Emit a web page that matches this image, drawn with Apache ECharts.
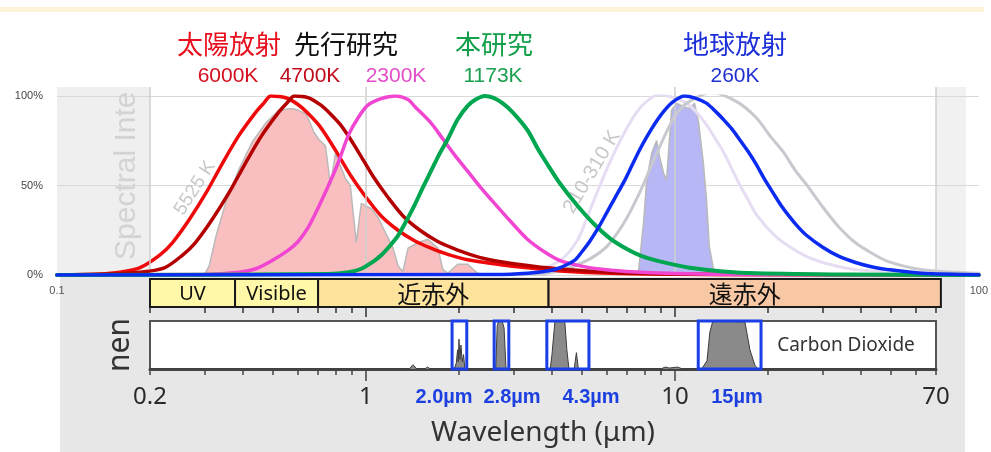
<!DOCTYPE html>
<html>
<head>
<meta charset="utf-8">
<script src="https://cdn.jsdelivr.net/npm/echarts@6/dist/echarts.min.js"></script>
<style>
html,body{margin:0;padding:0;background:#fff}
#chart{width:991px;height:452px}
</style>
</head>
<body>
<div id="chart"></div>
<script>
// Normalized blackbody curves: [wavelength (µm), intensity (% of peak)]
const sun6000K = [[0.1,0],[0.1378,0.5],[0.16,1.5],[0.1856,4],[0.2154,11],[0.2374,18],[0.2695,31],[0.3058,46],[0.3444,62],[0.391,78],[0.4439,91],[0.4711,96],[0.4964,100],[0.555,99],[0.6113,95],[0.659,90],[0.7099,84],[0.7646,76],[0.8238,67],[0.9075,55],[1.0074,44],[1.135,33],[1.288,25],[1.462,19],[1.648,15],[1.87,11.5],[2.17,8.5],[2.714,6],[3.395,4],[4.341,2.3],[6.3,1],[12.05,0.3],[100,0]];
const prior4700K = [[0.1,0],[0.1484,0.5],[0.1856,1.5],[0.2236,4],[0.2557,11],[0.2818,18],[0.3198,31],[0.363,46],[0.409,62],[0.4642,78],[0.5268,91],[0.5593,96],[0.5934,100],[0.659,99],[0.7206,95],[0.7762,90],[0.836,84],[0.9008,76],[0.9707,67],[1.069,55],[1.187,44],[1.337,33],[1.518,25],[1.723,19],[1.941,15],[2.203,11.5],[2.557,8.5],[3.151,6],[3.94,4],[5.307,2.3],[7.702,1],[13.98,0.3],[100,0]];
const prior2300K = [[0.1,0],[0.3,0.3],[0.391,1.5],[0.4439,3.5],[0.5,8],[0.5675,14],[0.6113,19],[0.659,27],[0.7099,38],[0.7646,50],[0.8238,63],[0.8874,78],[0.956,88],[1.03,95],[1.135,98.5],[1.26,100],[1.388,98],[1.462,94],[1.648,85],[1.802,76],[1.97,67],[2.17,58],[2.39,49],[2.654,40],[2.991,30],[3.395,20],[3.853,13],[4.341,8],[4.927,5.5],[5.72,3.5],[7.153,2],[10.38,0.8],[17.49,0.2],[100,0]];
const study1173K = [[0.1,0],[0.7646,0.5],[0.8874,1.5],[0.9779,3.5],[1.069,7.5],[1.135,11],[1.214,16.5],[1.288,22],[1.378,31],[1.462,39.5],[1.552,49],[1.648,58],[1.749,67],[1.87,76],[2.015,87],[2.17,94.5],[2.304,98],[2.464,100],[2.634,99],[2.818,96],[3.036,91],[3.395,81],[3.658,71],[3.94,62],[4.341,51],[4.927,39],[5.594,28.5],[6.302,20.5],[7.153,14.5],[8.0,10.5],[8.941,8],[11.44,4],[14.73,2],[18.84,1],[36.84,0.3],[100,0]];
const earth260K = [[0.1,0],[2.714,0.3],[3.395,1],[3.853,2],[4.245,3.5],[4.818,8],[5.11,13],[5.428,19],[5.805,27],[6.162,35],[6.54,43],[6.996,52],[7.425,61],[7.876,70],[8.36,78],[8.941,86],[9.49,92],[10.15,97],[11.02,100],[11.87,99],[12.98,96],[13.98,91],[14.73,87],[15.64,82],[16.6,76],[17.75,69],[18.84,62],[20.0,54],[21.38,46],[22.7,39],[24.09,33],[25.76,27],[27.35,22.5],[31.04,15.5],[34.98,10.5],[39.69,7],[45.05,4.5],[50.77,3],[65.4,1],[100,0.2]];

// Faint 210–310 K reference curves of the spectral panel
const pale310K = [[2.5,0],[3.395,0.5],[3.74,3],[4.341,8],[4.927,19],[5.307,32],[5.72,46],[6.30,63],[6.996,79],[7.702,91],[8.299,97],[9.143,101],[10.15,99],[11.18,96],[12.05,91],[12.98,84],[13.78,77],[14.73,69],[15.64,60],[16.6,51],[17.75,42],[18.84,34],[21.38,23],[24.09,16],[27.35,10.5],[31.04,7],[39.69,3],[65.4,1],[100,0.3]];
const pale210K = [[3,0],[3.658,0.5],[4.245,2],[4.818,5],[5.428,9],[6.162,16],[6.996,29],[7.876,46],[8.743,64],[9.634,80],[10.46,91],[11.44,97],[13.47,102],[16.23,97],[18.84,88],[21.07,77],[23.04,69],[25.38,58],[27.35,51],[31.04,38],[34.98,27],[39.69,18],[45.05,12],[50.77,7.5],[65.4,3],[100,1]];

// Transmitted solar and terrestrial spectra (% of peak)
const solarSpectrum = [[0.3013,0],[0.3127,5],[0.3295,22],[0.3549,41],[0.391,59],[0.4309,74],[0.4782,85],[0.5268,92],[0.5803,93],[0.6113,92],[0.6444,90],[0.659,87],[0.6839,80],[0.7099,76],[0.7479,72],[0.7762,50],[0.8055,68],[0.8678,54],[0.9008,50],[0.9422,18],[0.9779,40],[1.054,37],[1.11,32],[1.169,24],[1.241,15],[1.288,5],[1.337,2],[1.388,15],[1.495,18],[1.611,20],[1.736,15],[1.802,3],[1.87,1],[2.015,6],[2.17,6],[2.338,1],[2.5,0]];
const earthSpectrum = [[7.702,0],[7.818,3],[8.115,30],[8.299,53],[8.614,68],[8.941,75],[9.143,66],[9.421,57],[9.634,53],[10.0,92],[10.38,96],[10.94,94],[11.44,93],[11.87,96],[12.23,86],[12.7,62],[12.98,43],[13.27,16],[13.67,4],[13.98,0]];

// CO2 absorption (fraction of panel height)
const co2Absorption = [[0.2,0],[1.38,0],[1.42,0.09],[1.46,0],[1.55,0],[1.58,0.04],[1.62,0],[1.93,0],[1.96,0.12],[1.98,0.4],[1.99,0.15],[2.0,0.62],[2.015,0.2],[2.03,0.5],[2.05,0.15],[2.07,0.3],[2.09,0],[2.63,0],[2.66,0.9],[2.69,1],[2.76,1],[2.8,0.85],[2.84,0],[3.95,0],[4.0,0.3],[4.09,1],[4.4,1],[4.47,0.4],[4.54,0],[4.72,0],[4.8,0.34],[4.87,0],[9.0,0],[9.3,0.04],[9.6,0.02],[10.2,0.04],[10.6,0],[12.2,0],[12.7,0.17],[12.98,0.77],[13.27,1],[16.85,0.98],[17.49,0.4],[18.15,0.08],[18.56,0],[70,0]];
const co2Windows = [[1.9,2.12],[2.6,2.9],[3.85,5.27],[11.9,19.0]];
const co2WindowLabels = ['2.0µm','2.8µm','4.3µm','15µm'];

// Spectral bands: [start µm, end µm, name]
const bands = [[0.2,0.377,'UV'],[0.377,0.7,'Visible'],[0.7,3.9,'近赤外'],[3.9,72.6,'遠赤外']];

// Axis values
const topAxisLabels = [0.1, 100];
const minorTicks = [0.2,0.3,0.4,0.5,0.6,0.7,0.8,0.9,1,2,3,4,5,6,7,8,9,10,20,30,40,50,60,70];
const majorTicks = [1, 10];
const bottomAxisLabels = [0.2, 1, 10, 70];
const panelLines = [0.2, 1, 10, 70];

// Headings
const sourceNames = ['太陽放射','先行研究','本研究','地球放射'];
const tempLabels = ['6000K','4700K','2300K','1173K','260K'];

const C = {
  sun: '#ee0a0a', prior47: '#b40000', prior23: '#f046d2', study: '#00a650', earth: '#0b2cf0',
  pale310: '#e6ddf3', pale210: '#c8c8cf'
};
const bandFill = {'UV':'#fff8a8','Visible':'#fff8a8','近赤外':'#fde39c','遠赤外':'#f7c8a3'};
const bandFont = {'UV':'20px "Noto Sans"','Visible':'20px "Noto Sans"','近赤外':'24px "Noto Sans CJK JP"','遠赤外':'24px "Noto Sans CJK JP"'};

const chart = echarts.init(document.getElementById('chart'), null, {renderer:'canvas'});

function curve(name, data, color, width, z) {
  return {
    name, type:'line', xAxisIndex:0, yAxisIndex:0, data, showSymbol:false, symbol:'none',
    smooth:0.3, z, silent:true,
    lineStyle:{color, width, cap:'round', join:'round'}
  };
}
function fill(name, data, color, z) {
  return {
    name, type:'line', xAxisIndex:0, yAxisIndex:0, data, showSymbol:false, symbol:'none', z, silent:true,
    lineStyle:{color:'#b9b9b9', width:1.5}, areaStyle:{color, opacity:1}
  };
}
function txt(text, x, y, font, fill, extra) {
  return Object.assign({type:'text', x, y, z:1, silent:true,
    style:{text, font, fill, textAlign:'center', textVerticalAlign:'middle'}}, extra || {});
}

const graphics = [
  {type:'rect', z:-10, silent:true, shape:{x:0,y:7,width:984,height:5}, style:{fill:'#fcf3d8'}},
  {type:'rect', z:-10, silent:true, shape:{x:57,y:87,width:93,height:190}, style:{fill:'#efefef'}},
  {type:'rect', z:-10, silent:true, shape:{x:936,y:87,width:30,height:190}, style:{fill:'#f1f1f1'}},
  {type:'rect', z:-10, silent:true, shape:{x:60,y:277,width:905,height:175}, style:{fill:'#e7e7e7'}},
  // panel titles
  txt('Spectral Inte', 127, 260, '30px "Liberation Sans"', '#d3d3d3', {rotation:Math.PI/2, style:{text:'Spectral Inte', font:'30px "Liberation Sans"', fill:'#d3d3d3', textAlign:'left', textVerticalAlign:'middle'}}),
  txt('5525 K', 195, 188, '19px "Liberation Sans"', '#c8c8c8', {rotation:1.0}),
  txt('210-310 K', 592, 172, '20px "Liberation Sans"', '#c8c8c8', {rotation:1.03}),
  txt('nen', 120, 345, '30px "Noto Sans"', '#333', {rotation:Math.PI/2}),
  // headings
  txt(sourceNames[0], 229, 44, '26px "Noto Sans CJK JP"', '#e8101e'),
  txt(sourceNames[1], 346, 44, '26px "Noto Sans CJK JP"', '#111'),
  txt(sourceNames[2], 494, 44, '26px "Noto Sans CJK JP"', '#14a04a'),
  txt(sourceNames[3], 735, 44, '26px "Noto Sans CJK JP"', '#1c2fd8'),
  txt(tempLabels[0], 228, 76, '21px "Liberation Sans"', '#d4101e'),
  txt(tempLabels[1], 310, 76, '21px "Liberation Sans"', '#c20a1a'),
  txt(tempLabels[2], 396, 76, '21px "Liberation Sans"', '#e24fc8'),
  txt(tempLabels[3], 493, 76, '21px "Liberation Sans"', '#1aa050'),
  txt(tempLabels[4], 735, 76, '21px "Liberation Sans"', '#2030d0'),
  // CO2 panel texts
  txt('Carbon Dioxide', 846, 346, '19px "Noto Sans"', '#333'),
  txt(co2WindowLabels[0], 444, 397, 'bold 20px "Liberation Sans"', '#1c3fe0'),
  txt(co2WindowLabels[1], 512, 397, 'bold 20px "Liberation Sans"', '#1c3fe0'),
  txt(co2WindowLabels[2], 591, 397, 'bold 20px "Liberation Sans"', '#1c3fe0'),
  txt(co2WindowLabels[3], 737, 397, 'bold 20px "Liberation Sans"', '#1c3fe0'),
  txt('Wavelength (μm)', 543, 433, '28px "Noto Sans"', '#333')
];

const logX = (gridIndex, min, max, extra) => Object.assign({
  type:'log', logBase:10, min, max, gridIndex, position:'bottom',
  axisLine:{show:false}, axisTick:{show:false}, axisLabel:{show:false}, splitLine:{show:false}
}, extra || {});

const option = {
  animation:false,
  backgroundColor:'#ffffff',
  grid:[
    {left:57, right:7, top:96, height:179},
    {left:57, right:7, top:87, height:188},
    {left:150, right:55, top:279, height:28},
    {left:150, right:55, top:321, height:48, show:true, backgroundColor:'#ffffff', borderColor:'#555', borderWidth:2}
  ],
  xAxis:[
    logX(0, 0.1, 100, {axisLabel:{show:true, customValues:topAxisLabels, fontSize:11, color:'#555', margin:10, fontFamily:'Liberation Sans',
      formatter:v => String(+v.toPrecision(3))}}),
    logX(1, 0.1, 100, {show:false}),
    logX(2, 0.2, 70, {axisTick:{show:true, customValues:minorTicks, length:6, inside:false, lineStyle:{color:'#333', width:1.5}}}),
    logX(2, 0.2, 70, {axisTick:{show:true, customValues:majorTicks, length:10, inside:false, lineStyle:{color:'#333', width:1.5}}}),
    logX(3, 0.2, 70, {axisLine:{show:true, lineStyle:{color:'#444', width:3}},
      axisTick:{show:true, customValues:minorTicks, length:6, inside:false, lineStyle:{color:'#444', width:1.5}}}),
    logX(3, 0.2, 70, {axisTick:{show:true, customValues:majorTicks, length:12, inside:false, lineStyle:{color:'#444', width:1.5}},
      axisLabel:{show:true, customValues:bottomAxisLabels, fontSize:24, color:'#2a2a2a', margin:16, fontFamily:'Noto Sans',
        formatter:v => String(+v.toPrecision(3))}})
  ],
  yAxis:[
    {type:'value', gridIndex:0, min:0, max:100, interval:50,
      axisLine:{show:false}, axisTick:{show:false},
      axisLabel:{formatter:'{value}%', fontSize:11, color:'#444', margin:14, fontFamily:'Liberation Sans'},
      splitLine:{show:true, lineStyle:{color:'#d9d9d9', width:1}}},
    {type:'value', gridIndex:1, min:0, max:100, show:false},
    {type:'value', gridIndex:2, min:0, max:1, show:false},
    {type:'value', gridIndex:3, min:0, max:1, show:false}
  ],
  graphic:{elements:graphics},
  series:[
    {type:'line', xAxisIndex:1, yAxisIndex:1, data:[], silent:true, z:1,
      markLine:{silent:true, symbol:'none', label:{show:false},
        lineStyle:{color:'#cfcfcf', width:1.5, type:'solid'},
        data:panelLines.map(v => ({xAxis:v}))}},
    fill('solar', solarSpectrum, '#f9bfc0', 2),
    fill('earth', earthSpectrum, '#b6b7f4', 2),
    curve('310K', pale310K, C.pale310, 3, 3),
    curve('210K', pale210K, C.pale210, 3, 3),
    curve('6000K', sun6000K, C.sun, 3.5, 4),
    curve('4700K', prior4700K, C.prior47, 3.5, 5),
    curve('2300K', prior2300K, C.prior23, 3.5, 6),
    curve('1173K', study1173K, C.study, 4, 7),
    curve('260K', earth260K, C.earth, 3.5, 8),
    {type:'custom', xAxisIndex:2, yAxisIndex:2, data:bands, silent:true, clip:false, z:3,
      renderItem(params, api){
        const b = bands[params.dataIndex];
        const p0 = api.coord([b[0], 1]);
        const p1 = api.coord([b[1], 0]);
        return {type:'group', children:[
          {type:'rect', shape:{x:p0[0], y:p0[1], width:p1[0]-p0[0], height:p1[1]-p0[1]},
            style:{fill:bandFill[b[2]], stroke:'#1a1a1a', lineWidth:2}},
          {type:'text', x:(p0[0]+p1[0])/2, y:(p0[1]+p1[1])/2 + 1,
            style:{text:b[2], font:bandFont[b[2]], fill:'#111', textAlign:'center', textVerticalAlign:'middle'}}
        ]};
      }},
    {type:'line', xAxisIndex:4, yAxisIndex:3, data:co2Absorption, showSymbol:false, symbol:'none', silent:true, z:3,
      lineStyle:{color:'#3c3c3c', width:1}, areaStyle:{color:'#8a8a8a', opacity:1}},
    {type:'custom', xAxisIndex:4, yAxisIndex:3, data:co2Windows, silent:true, clip:false, z:4,
      renderItem(params, api){
        const p0 = api.coord([api.value(0), 1]);
        const p1 = api.coord([api.value(1), 0]);
        return {type:'rect', shape:{x:p0[0], y:p0[1], width:p1[0]-p0[0], height:p1[1]-p0[1]},
          style:{fill:'none', stroke:'#1b3fe6', lineWidth:3}};
      }}
  ]
};
chart.setOption(option);
</script>
</body>
</html>
